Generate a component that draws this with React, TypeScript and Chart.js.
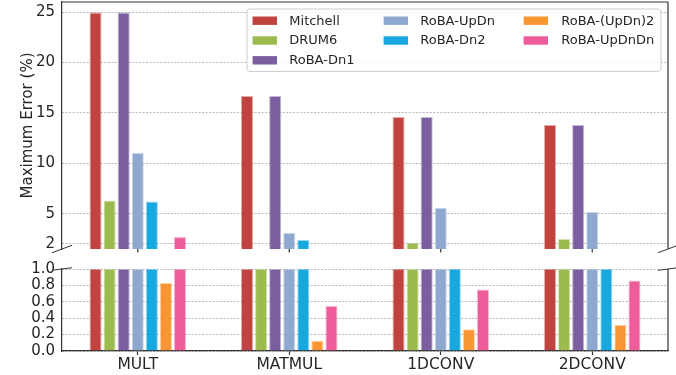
import { useEffect, useRef } from 'react';
import { Chart, registerables } from 'chart.js';
Chart.register(...registerables);

const categories = ['MULT', 'MATMUL', '1DCONV', '2DCONV'];
const seriesNames = ['Mitchell', 'DRUM6', 'RoBA-Dn1', 'RoBA-UpDn', 'RoBA-Dn2', 'RoBA-(UpDn)2', 'RoBA-UpDnDn'];
const mitchell = [24.95, 16.67, 14.6, 13.8];
const drum6 = [6.3, 1.2, 2.12, 2.48];
const robaDn1 = [24.95, 16.67, 14.6, 13.8];
const robaUpDn = [11.05, 3.1, 5.6, 5.2];
const robaDn2 = [6.22, 2.4, 1.2, 1.2];
const robaUpDn2 = [0.83, 0.125, 0.265, 0.32];
const robaUpDnDn = [2.68, 0.55, 0.75, 0.86];
const seriesValues = [mitchell, drum6, robaDn1, robaUpDn, robaDn2, robaUpDn2, robaUpDnDn];
const colors = ['#c0433f', '#9bbb4f', '#7b5ea0', '#8fa8cf', '#17a8e0', '#f79633', '#ef5c9b'];
const topTicks = [2, 5, 10, 15, 20, 25];
const bottomTicks = [0, 0.2, 0.4, 0.6, 0.8, 1.0];
const topRange = [1.5, 26];
const bottomRange = [0, 1];

const FONT = "'DejaVu Sans', sans-serif";
const TEXT = '#262626';
const SPINE = '#333333';
const GRID = 'rgba(160,160,160,0.75)';

const framePlugin = {
  id: 'frameAndBreaks',
  afterDraw(chart: any) {
    const { ctx, chartArea } = chart;
    const yT = chart.scales.yTop;
    const yB = chart.scales.yBot;
    const x = chart.scales.x;
    ctx.save();
    ctx.strokeStyle = SPINE;
    ctx.lineWidth = 1.2;
    ctx.beginPath();
    ctx.moveTo(chartArea.left, yT.top);
    ctx.lineTo(chartArea.right, yT.top);
    ctx.moveTo(chartArea.right, yT.top);
    ctx.lineTo(chartArea.right, yT.bottom);
    ctx.moveTo(chartArea.right, yB.top);
    ctx.lineTo(chartArea.right, yB.bottom);
    ctx.stroke();
    ctx.beginPath();
    for (let i = 0; i < categories.length; i++) {
      const px = x.getPixelForValue(i);
      ctx.moveTo(px, yT.bottom);
      ctx.lineTo(px, yT.bottom + 3.5);
    }
    ctx.stroke();
    ctx.lineWidth = 1;
    ctx.beginPath();
    for (const cx of [chartArea.left, chartArea.right]) {
      ctx.moveTo(cx - 10, yT.bottom + 3.7);
      ctx.lineTo(cx + 10, yT.bottom - 3.7);
      ctx.moveTo(cx - 10, yB.top + 1.3);
      ctx.lineTo(cx + 10, yB.top - 1.3);
    }
    ctx.stroke();
    ctx.restore();
  },
};

const legendPlugin = {
  id: 'customLegend',
  afterDraw(chart: any) {
    const { ctx, chartArea } = chart;
    const w = 414;
    const h = 62.4;
    const lx = chartArea.right - 7 - w;
    const ly = chartArea.top + 7;
    ctx.save();
    ctx.fillStyle = 'rgba(255,255,255,0.85)';
    ctx.strokeStyle = '#cccccc';
    ctx.lineWidth = 1;
    ctx.beginPath();
    (ctx as any).roundRect(lx, ly, w, h, 3);
    ctx.fill();
    ctx.stroke();
    const cols = [[0, 1, 2], [3, 4], [5, 6]];
    const patchOff = [5.6, 136.6, 276.6];
    const textOff = [42.3, 173.3, 314.3];
    ctx.font = `13px ${FONT}`;
    ctx.textBaseline = 'middle';
    ctx.textAlign = 'left';
    cols.forEach((col, c) => {
      col.forEach((si, r) => {
        const cy = ly + 11.7 + r * 19.8;
        ctx.fillStyle = colors[si];
        ctx.fillRect(lx + patchOff[c], cy - 4.2, 24.4, 8.4);
        ctx.fillStyle = TEXT;
        ctx.fillText(seriesNames[si], lx + textOff[c], cy + 0.5);
      });
    });
    ctx.restore();
  },
};

export default function App() {
  const ref = useRef<HTMLCanvasElement | null>(null);
  useEffect(() => {
    document.body.style.margin = '0';
    const canvas = ref.current!;
    const datasets: any[] = [];
    seriesValues.forEach((vals, i) => {
      datasets.push({
        label: seriesNames[i],
        data: vals.map((v) => (v >= topRange[0] ? v : null)),
        backgroundColor: colors[i],
        borderColor: colors[i] + '70',
        borderWidth: 1,
        yAxisID: 'yTop',
        stack: 's' + i,
        barPercentage: 0.86,
        categoryPercentage: 0.65,
      });
    });
    seriesValues.forEach((vals, i) => {
      datasets.push({
        label: seriesNames[i] + ' (low)',
        data: vals.map((v) => Math.min(v, bottomRange[1])),
        backgroundColor: colors[i],
        borderColor: colors[i] + '70',
        borderWidth: 1,
        yAxisID: 'yBot',
        stack: 's' + i,
        barPercentage: 0.86,
        categoryPercentage: 0.65,
      });
    });
    const forceWidth = (s: any) => {
      s.width = 62;
      s.paddingTop = 0;
      s.paddingBottom = 0;
    };
    const chart = new Chart(canvas, {
      type: 'bar',
      data: { labels: categories, datasets },
      options: {
        animation: false,
        responsive: false,
        maintainAspectRatio: false,
        layout: { padding: { left: 0, right: 8, top: 2, bottom: 0 } },
        plugins: { legend: { display: false }, tooltip: { enabled: false } },
        scales: {
          x: {
            type: 'category',
            position: 'bottom',
            grid: {
              display: true,
              drawOnChartArea: false,
              drawTicks: true,
              tickLength: 4,
              tickColor: SPINE,
              tickWidth: 1.2,
              offset: false,
            },
            border: { display: true, color: SPINE, width: 1.2 },
            ticks: { color: TEXT, font: { family: FONT, size: 15.5, lineHeight: 1.2 }, padding: 1, autoSkip: false },
            afterFit: (s: any) => {
              s.height = 24;
              s.paddingLeft = 0;
              s.paddingRight = 0;
            },
          },
          yTop: {
            type: 'linear',
            position: 'left',
            stack: 'ys',
            stackWeight: 247,
            weight: 3,
            stacked: false,
            min: topRange[0],
            max: topRange[1],
            z: 1,
            afterBuildTicks: (s: any) => {
              s.ticks = topTicks.map((v) => ({ value: v }));
            },
            afterFit: forceWidth,
            grid: { display: true, drawTicks: false, color: GRID, lineWidth: 1 },
            border: { display: true, color: SPINE, width: 1.2, dash: [2, 1.5] },
            ticks: {
              color: TEXT,
              font: { family: FONT, size: 15 },
              padding: 7,
              autoSkip: false,
              callback: (v: any) => String(v),
            },
            title: {
              display: true,
              text: 'Maximum Error (%)',
              color: TEXT,
              font: { family: FONT, size: 15, lineHeight: 1.2 },
              padding: { top: 19, bottom: 0 },
            },
          },
          yGap: {
            type: 'linear',
            position: 'left',
            stack: 'ys',
            stackWeight: 20,
            weight: 2,
            min: 0,
            max: 1,
            afterFit: forceWidth,
            grid: { display: false },
            border: { display: false },
            ticks: { display: false },
          },
          yBot: {
            type: 'linear',
            position: 'left',
            stack: 'ys',
            stackWeight: 82,
            weight: 1,
            stacked: false,
            min: bottomRange[0],
            max: bottomRange[1],
            z: 1,
            afterBuildTicks: (s: any) => {
              s.ticks = bottomTicks.map((v) => ({ value: v }));
            },
            afterFit: forceWidth,
            grid: { display: true, drawTicks: false, color: GRID, lineWidth: 1 },
            border: { display: true, color: SPINE, width: 1.2, dash: [2, 1.5] },
            ticks: {
              color: TEXT,
              font: { family: FONT, size: 15 },
              padding: 7,
              autoSkip: false,
              callback: (v: any) => Number(v).toFixed(1),
            },
          },
        },
      },
      plugins: [framePlugin, legendPlugin],
    } as any);
    return () => chart.destroy();
  }, []);
  return (
    <div style={{ width: 676, height: 375 }}>
      <canvas ref={ref} width={676} height={375} style={{ display: 'block' }} />
    </div>
  );
}
